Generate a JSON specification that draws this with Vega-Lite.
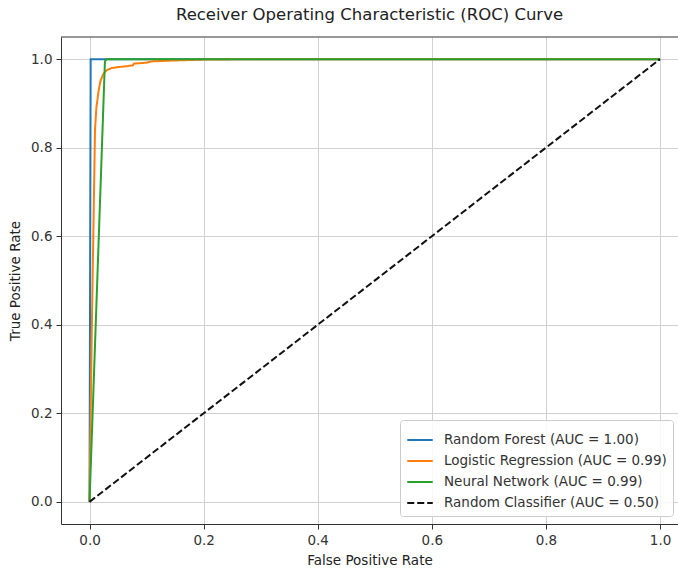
{
  "$schema": "https://vega.github.io/schema/vega-lite/v6.json",
  "autosize": "none",
  "padding": {"left": 61, "top": 37, "right": 0, "bottom": 45},
  "width": 617,
  "height": 487,
  "background": "white",
  "title": {"text": "Receiver Operating Characteristic (ROC) Curve", "fontSize": 16.5, "font": "DejaVu Sans", "fontWeight": "normal", "color": "#222", "anchor": "middle", "offset": 13},
  "config": {
    "view": {"stroke": null},
    "font": "DejaVu Sans",
    "axis": {"grid": true, "gridColor": "#d0d0d0", "gridWidth": 1, "domainColor": "#333", "tickColor": "#333", "tickSize": 5, "labelFontSize": 13.5, "labelColor": "#333", "titleFontSize": 13.5, "titleFontWeight": "normal", "titleColor": "#222", "labelFont": "DejaVu Sans", "titleFont": "DejaVu Sans"}
  },
  "datasets": {
    "roc": [
      {"s": "Random Forest (AUC = 1.00)", "i": 0, "fpr": 0, "tpr": 0},
      {"s": "Random Forest (AUC = 1.00)", "i": 1, "fpr": 0.002, "tpr": 1},
      {"s": "Random Forest (AUC = 1.00)", "i": 2, "fpr": 1, "tpr": 1},
      {"s": "Logistic Regression (AUC = 0.99)", "i": 0, "fpr": 0, "tpr": 0},
      {"s": "Logistic Regression (AUC = 0.99)", "i": 1, "fpr": 0.004, "tpr": 0.39},
      {"s": "Logistic Regression (AUC = 0.99)", "i": 2, "fpr": 0.0096, "tpr": 0.84},
      {"s": "Logistic Regression (AUC = 0.99)", "i": 3, "fpr": 0.012, "tpr": 0.89},
      {"s": "Logistic Regression (AUC = 0.99)", "i": 4, "fpr": 0.0155, "tpr": 0.925},
      {"s": "Logistic Regression (AUC = 0.99)", "i": 5, "fpr": 0.019, "tpr": 0.95},
      {"s": "Logistic Regression (AUC = 0.99)", "i": 6, "fpr": 0.024, "tpr": 0.966},
      {"s": "Logistic Regression (AUC = 0.99)", "i": 7, "fpr": 0.03, "tpr": 0.975},
      {"s": "Logistic Regression (AUC = 0.99)", "i": 8, "fpr": 0.039, "tpr": 0.98},
      {"s": "Logistic Regression (AUC = 0.99)", "i": 9, "fpr": 0.05, "tpr": 0.982},
      {"s": "Logistic Regression (AUC = 0.99)", "i": 10, "fpr": 0.065, "tpr": 0.984},
      {"s": "Logistic Regression (AUC = 0.99)", "i": 11, "fpr": 0.076, "tpr": 0.986},
      {"s": "Logistic Regression (AUC = 0.99)", "i": 12, "fpr": 0.078, "tpr": 0.99},
      {"s": "Logistic Regression (AUC = 0.99)", "i": 13, "fpr": 0.09, "tpr": 0.991},
      {"s": "Logistic Regression (AUC = 0.99)", "i": 14, "fpr": 0.1, "tpr": 0.992},
      {"s": "Logistic Regression (AUC = 0.99)", "i": 15, "fpr": 0.11, "tpr": 0.995},
      {"s": "Logistic Regression (AUC = 0.99)", "i": 16, "fpr": 0.15, "tpr": 0.997},
      {"s": "Logistic Regression (AUC = 0.99)", "i": 17, "fpr": 0.2, "tpr": 0.999},
      {"s": "Logistic Regression (AUC = 0.99)", "i": 18, "fpr": 0.3, "tpr": 1},
      {"s": "Logistic Regression (AUC = 0.99)", "i": 19, "fpr": 1, "tpr": 1},
      {"s": "Neural Network (AUC = 0.99)", "i": 0, "fpr": 0, "tpr": 0},
      {"s": "Neural Network (AUC = 0.99)", "i": 1, "fpr": 0.027, "tpr": 0.995},
      {"s": "Neural Network (AUC = 0.99)", "i": 2, "fpr": 0.03, "tpr": 1},
      {"s": "Neural Network (AUC = 0.99)", "i": 3, "fpr": 1, "tpr": 1},
      {"s": "Random Classifier (AUC = 0.50)", "i": 0, "fpr": 0, "tpr": 0},
      {"s": "Random Classifier (AUC = 0.50)", "i": 1, "fpr": 1, "tpr": 1}
    ],
    "frame": [{"top": 1.05}]
  },
  "layer": [
    {
      "data": {"name": "frame"},
      "mark": {"type": "rule", "color": "#333", "strokeWidth": 1},
      "encoding": {
        "y": {"field": "top", "type": "quantitative", "scale": {"domain": [-0.05, 1.05], "nice": false, "zero": false}}
      }
    },
    {
      "data": {"name": "roc"},
      "mark": {"type": "line", "strokeWidth": 2, "clip": true},
      "encoding": {
        "x": {"field": "fpr", "type": "quantitative", "title": "False Positive Rate", "scale": {"domain": [-0.05, 1.0315], "nice": false, "zero": false}, "axis": {"values": [0, 0.2, 0.4, 0.6, 0.8, 1.0], "format": ".1f", "titlePadding": 7, "labelPadding": 4}},
        "y": {"field": "tpr", "type": "quantitative", "title": "True Positive Rate", "scale": {"domain": [-0.05, 1.05], "nice": false, "zero": false}, "axis": {"values": [0, 0.2, 0.4, 0.6, 0.8, 1.0], "format": ".1f", "titlePadding": 8, "labelPadding": 4}},
        "order": {"field": "i", "type": "quantitative"},
        "color": {"field": "s", "type": "nominal", "title": null,
          "scale": {"domain": ["Random Forest (AUC = 1.00)", "Logistic Regression (AUC = 0.99)", "Neural Network (AUC = 0.99)", "Random Classifier (AUC = 0.50)"], "range": ["#1f77b4", "#ff7f0e", "#2ca02c", "#111111"]},
          "legend": {"orient": "none", "legendX": 339, "legendY": 383, "symbolType": "stroke", "symbolSize": 650, "symbolStrokeWidth": 2, "labelFontSize": 13.5, "labelLimit": 400, "labelColor": "#333", "labelFont": "DejaVu Sans", "strokeColor": "#cccccc", "fillColor": "rgba(255,255,255,0.85)", "cornerRadius": 3, "padding": 6, "rowPadding": 0, "labelOffset": 10}},
        "strokeDash": {"field": "s", "type": "nominal", "title": null,
          "scale": {"domain": ["Random Forest (AUC = 1.00)", "Logistic Regression (AUC = 0.99)", "Neural Network (AUC = 0.99)", "Random Classifier (AUC = 0.50)"], "range": [[1, 0], [1, 0], [1, 0], [7, 3]]},
          "legend": {"orient": "none", "legendX": 339, "legendY": 383, "symbolType": "stroke", "symbolSize": 650, "symbolStrokeWidth": 2, "labelFontSize": 13.5, "labelLimit": 400, "labelColor": "#333", "labelFont": "DejaVu Sans", "strokeColor": "#cccccc", "fillColor": "rgba(255,255,255,0.85)", "cornerRadius": 3, "padding": 6, "rowPadding": 0, "labelOffset": 10}}
      }
    }
  ]
}
